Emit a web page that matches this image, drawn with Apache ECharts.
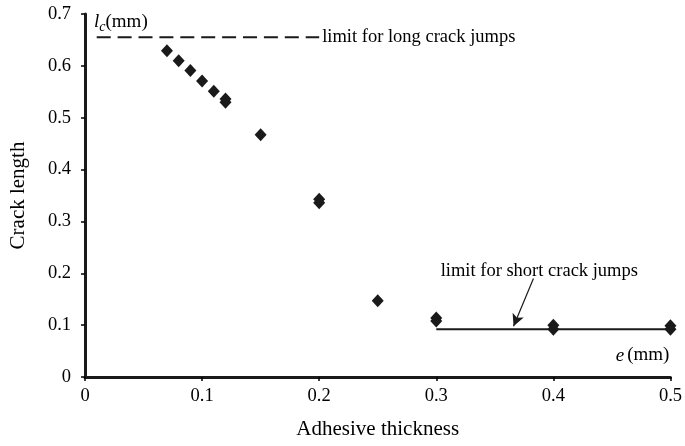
<!DOCTYPE html>
<html>
<head>
<meta charset="utf-8">
<script src="https://cdn.jsdelivr.net/npm/echarts@6/dist/echarts.min.js"></script>
<style>html,body{margin:0;padding:0;background:#fff}#c{width:685px;height:446px}</style>
</head>
<body>
<div id="c"></div>
<script>
// Data
const thickness = [0.07, 0.08, 0.09, 0.10, 0.11, 0.12, 0.12, 0.15, 0.20, 0.20, 0.25, 0.30, 0.30, 0.40, 0.40, 0.50, 0.50];
const crackLength = [0.629, 0.610, 0.591, 0.571, 0.551, 0.536, 0.530, 0.467, 0.343, 0.336, 0.147, 0.114, 0.108, 0.100, 0.092, 0.099, 0.092];
const longLimitX = [0.01, 0.20];
const longLimitY = 0.655;
const shortLimitX = [0.30, 0.50];
const shortLimitY = 0.092;
const arrowFrom = [0.383, 0.190];
const arrowTo = [0.366, 0.098];
const shortLabelPos = [0.388, 0.204];
const xTicks = {min: 0, max: 0.5, interval: 0.1};
const yTicks = {min: 0, max: 0.7, interval: 0.1};

const serif = 'Liberation Serif';
const chart = echarts.init(document.getElementById('c'));
chart.setOption({
  animation: false,
  backgroundColor: '#fff',
  textStyle: {fontFamily: serif, color: '#000'},
  grid: {left: 84, right: 13, top: 14, bottom: 69},
  xAxis: {
    type: 'value', min: xTicks.min, max: xTicks.max, interval: xTicks.interval,
    name: 'Adhesive thickness', nameLocation: 'middle', nameGap: 42,
    nameTextStyle: {fontFamily: serif, fontSize: 21, color: '#000'},
    axisLine: {show: true, lineStyle: {color: '#1a1a1a', width: 3}},
    axisTick: {show: true, length: 4, lineStyle: {color: '#000', width: 1.5}},
    axisLabel: {fontFamily: serif, fontSize: 18.5, color: '#000', margin: 10},
    splitLine: {show: false}
  },
  yAxis: {
    type: 'value', min: yTicks.min, max: yTicks.max, interval: yTicks.interval,
    name: 'Crack length', nameLocation: 'middle', nameGap: 56, nameRotate: 90,
    nameTextStyle: {fontFamily: serif, fontSize: 21, color: '#000'},
    axisLine: {show: true, lineStyle: {color: '#1a1a1a', width: 3}},
    axisTick: {show: true, length: 4, lineStyle: {color: '#000', width: 1.5}},
    axisLabel: {fontFamily: serif, fontSize: 18.5, color: '#000', margin: 14},
    splitLine: {show: false}
  },
  series: [
    {
      type: 'scatter', symbol: 'diamond', symbolSize: [12, 13],
      itemStyle: {color: '#1a1a1a', opacity: 1},
      data: thickness.map((x, i) => [x, crackLength[i]]),
      z: 5
    },
    {
      type: 'line', symbol: 'none',
      lineStyle: {color: '#1a1a1a', width: 2, type: [14, 6.9]},
      data: longLimitX.map(x => [x, longLimitY]),
      endLabel: {
        show: true, formatter: 'limit for long crack jumps',
        fontFamily: serif, fontSize: 18.5, color: '#000', distance: 3
      }
    },
    {
      type: 'line', symbol: 'none',
      lineStyle: {color: '#1a1a1a', width: 2},
      data: shortLimitX.map(x => [x, shortLimitY]),
      markLine: {
        silent: true, symbol: ['none', 'arrow'], symbolSize: [9, 12],
        lineStyle: {color: '#1a1a1a', width: 1.2, type: 'solid'},
        label: {show: false},
        data: [[{coord: arrowFrom}, {coord: arrowTo}]]
      }
    },
    {
      type: 'scatter', symbolSize: 0, itemStyle: {opacity: 1},
      data: [shortLabelPos],
      label: {
        show: true, position: 'inside', formatter: 'limit for short crack jumps',
        fontFamily: serif, fontSize: 18.5, color: '#000'
      }
    },
    {
      type: 'scatter', symbolSize: 0, itemStyle: {opacity: 1},
      data: [[xTicks.min, yTicks.max]],
      label: {
        show: true, position: 'right', distance: 9, offset: [0, 8],
        formatter: '{i|l}{s|c}{n|(mm)}',
        rich: {
          i: {fontFamily: serif, fontStyle: 'italic', fontSize: 19, color: '#000'},
          s: {fontFamily: serif, fontStyle: 'italic', fontSize: 14, color: '#000', verticalAlign: 'bottom', padding: [10, 0, 0, 0]},
          n: {fontFamily: serif, fontSize: 19, color: '#000'}
        }
      }
    },
    {
      type: 'scatter', symbolSize: 0, itemStyle: {opacity: 1},
      data: [[xTicks.max, yTicks.min]],
      label: {
        show: true, position: 'insideBottomRight', offset: [4, -7],
        formatter: '{i|e} {n|(mm)}',
        align: 'right', verticalAlign: 'bottom',
        rich: {
          i: {fontFamily: serif, fontStyle: 'italic', fontSize: 19, color: '#000'},
          n: {fontFamily: serif, fontSize: 19, color: '#000'}
        }
      }
    }
  ]
});
</script>
</body>
</html>
